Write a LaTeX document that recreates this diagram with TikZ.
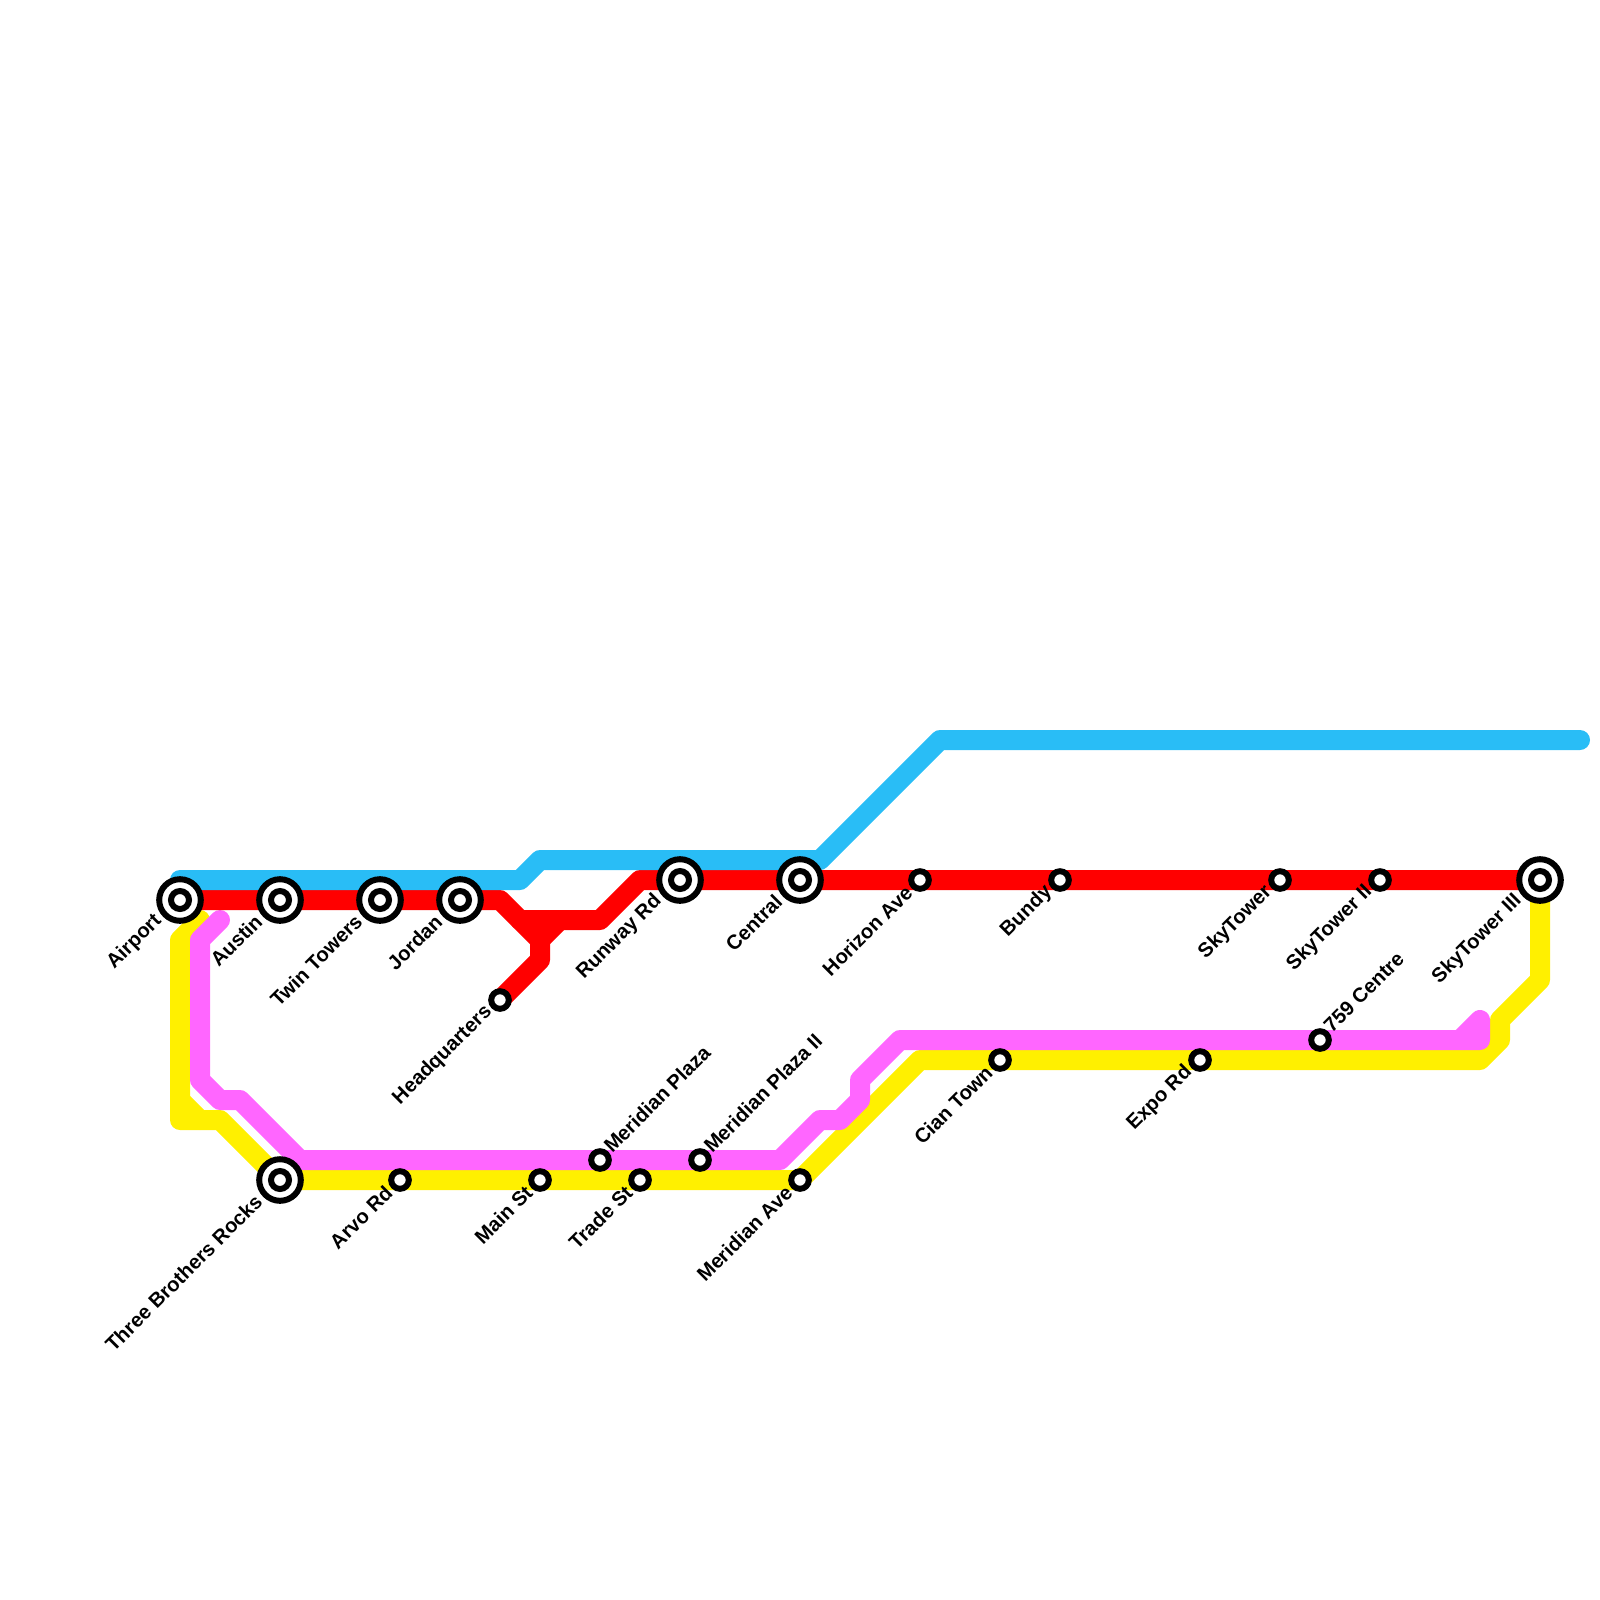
\documentclass[tikz,border=0pt]{standalone}
\usepackage{fontspec}
\setmainfont{Liberation Sans}
\usetikzlibrary{positioning, backgrounds}

\definecolor{bluemetro}{HTML}{29BDF6}
\definecolor{redmetro}{HTML}{FF0000}
\definecolor{yellowmetro}{HTML}{FFF000}
\definecolor{pinkmetro}{HTML}{FF66FF}

\tikzset{
  metro/.style={line width=5mm, line cap=round, line join=round},
  stop/.style={draw=black, fill=white, circle, line width=1.5mm, inner sep=0pt, outer sep=0pt, minimum size=4.4mm},
  interchange/.style={stop, minimum size=10.4mm, path picture={\draw[black, line width=1.5mm] (path picture bounding box.center) circle (2.25mm);}},
  stoplabel/.style={font=\fontsize{14.4}{16}\selectfont\bfseries, rotate=45, inner sep=0pt, anchor=east},
  stoplabelup/.style={stoplabel, anchor=west}
}

\begin{document}
\begin{tikzpicture}[x=0.5cm, y=-0.5cm]
  \useasboundingbox (0,0) rectangle (80,80);

  \node[interchange] (airport) at (9, 45) {};
  \node[interchange] (austin) at (14, 45) {};
  \node[interchange] (twintowers) at (19, 45) {};
  \node[interchange] (jordan) at (23, 45) {};
  \node[stop] (headquarters) at (25, 50) {};
  \node[interchange] (runway) at (34, 44) {};
  \node[interchange] (central) at (40, 44) {};
  \node[stop] (horizon) at (46, 44) {};
  \node[stop] (bundy) at (53, 44) {};
  \node[stop] (skytower) at (64, 44) {};
  \node[stop] (skytowertwo) at (69, 44) {};
  \node[interchange] (skytowerthree) at (77, 44) {};
  \node[interchange] (threebrothers) at (14, 59) {};
  \node[stop] (arvo) at (20, 59) {};
  \node[stop] (mainst) at (27, 59) {};
  \node[stop] (tradest) at (32, 59) {};
  \node[stop] (meridianave) at (40, 59) {};
  \node[stop] (plaza) at (30, 58) {};
  \node[stop] (plazatwo) at (35, 58) {};
  \node[stop] (cian) at (50, 53) {};
  \node[stop] (expo) at (60, 53) {};
  \node[stop] (centre) at (66, 52) {};

  \coordinate (bluestart) at (9, 44);
  \coordinate (blueend) at (79, 37);
  \coordinate (yellowstart) at (10, 46);
  \coordinate (pinkstart) at (11, 46);

  \begin{scope}[on background layer]
    \draw[metro, yellowmetro] (yellowstart) -- (9, 47) -- (9, 56) -- (11, 56) -- (threebrothers.center) -- (meridianave.center) -- (46, 53) -- (74, 53) -- (75, 52) -- (75, 51) -- (77, 49) -- (skytowerthree.center);
    \draw[metro, yellowmetro] (9, 55) -- (10, 56);
    \draw[metro, pinkmetro] (pinkstart) -- (10, 47) -- (10, 54) -- (11, 55) -- (12, 55) -- (15, 58) -- (39, 58) -- (41, 56) -- (42, 56) -- (43, 55) -- (43, 54) -- (45, 52) -- (74, 52) -- (74, 51) -- (73, 52);
    \draw[metro, redmetro] (airport.center) -- (25, 45) -- (27, 47) -- (27, 48) -- (headquarters.center);
    \draw[metro, redmetro] (26, 46) -- (30, 46) -- (32, 44) -- (skytowerthree.center);
    \draw[metro, redmetro] (27, 47) -- (28, 46);
    \draw[metro, bluemetro] (bluestart) -- (26, 44) -- (27, 43) -- (41, 43) -- (47, 37) -- (blueend);
  \end{scope}

  \node[stoplabel] (airportname) at ([shift={(-1.07, 0.9)}]airport.center) {Airport};
  \node[stoplabel] (austinname) at ([shift={(-1.07, 0.9)}]austin.center) {Austin};
  \node[stoplabel] (twintowersname) at ([shift={(-1.07, 0.9)}]twintowers.center) {Twin Towers};
  \node[stoplabel] (jordanname) at ([shift={(-1.07, 0.9)}]jordan.center) {Jordan};
  \node[stoplabel] (headquartersname) at ([shift={(-0.55, 0.45)}]headquarters.center) {Headquarters};
  \node[stoplabel] (runwayname) at ([shift={(-1.07, 0.9)}]runway.center) {Runway Rd};
  \node[stoplabel] (centralname) at ([shift={(-1.07, 0.9)}]central.center) {Central};
  \node[stoplabel] (horizonname) at ([shift={(-0.55, 0.45)}]horizon.center) {Horizon Ave};
  \node[stoplabel] (bundyname) at ([shift={(-0.55, 0.45)}]bundy.center) {Bundy};
  \node[stoplabel] (skytowername) at ([shift={(-0.55, 0.45)}]skytower.center) {SkyTower};
  \node[stoplabel] (skytowertwoname) at ([shift={(-0.55, 0.45)}]skytowertwo.center) {SkyTower II};
  \node[stoplabel] (skytowerthreename) at ([shift={(-1.07, 0.9)}]skytowerthree.center) {SkyTower III};
  \node[stoplabel] (threebrothersname) at ([shift={(-1.07, 0.9)}]threebrothers.center) {Three Brothers Rocks};
  \node[stoplabel] (arvoname) at ([shift={(-0.55, 0.45)}]arvo.center) {Arvo Rd};
  \node[stoplabel] (mainstname) at ([shift={(-0.55, 0.45)}]mainst.center) {Main St};
  \node[stoplabel] (tradestname) at ([shift={(-0.55, 0.45)}]tradest.center) {Trade St};
  \node[stoplabel] (meridianavename) at ([shift={(-0.55, 0.45)}]meridianave.center) {Meridian Ave};
  \node[stoplabel] (cianname) at ([shift={(-0.55, 0.45)}]cian.center) {Cian Town};
  \node[stoplabel] (exponame) at ([shift={(-0.55, 0.45)}]expo.center) {Expo Rd};
  \node[stoplabelup] (plazaname) at ([shift={(0.35, -0.55)}]plaza.center) {Meridian Plaza};
  \node[stoplabelup] (plazatwoname) at ([shift={(0.35, -0.55)}]plazatwo.center) {Meridian Plaza II};
  \node[stoplabelup] (centrename) at ([shift={(0.35, -0.55)}]centre.center) {759 Centre};
\end{tikzpicture}
\end{document}
